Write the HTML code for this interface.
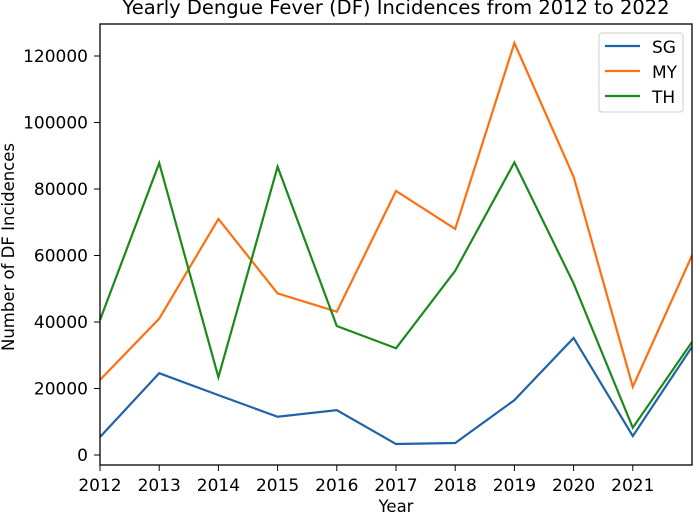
<!DOCTYPE html>
<html><head><meta charset="utf-8"><style>
body{margin:0;background:#fff;}
svg text{font-family:"DejaVu Sans","Liberation Sans",sans-serif;fill:#000;}
</style></head><body>
<svg id="chart" width="694" height="513">
<text x="396" y="14" font-size="19.5" text-anchor="middle">Yearly Dengue Fever (DF) Incidences from 2012 to 2022</text>
<g id="axes"></g>
<g id="series"></g>
<rect x="100" y="24" width="592" height="441" fill="none" stroke="#000" stroke-width="1.3"/>
<text x="396" y="512" font-size="16.5" text-anchor="middle">Year</text>
<text transform="translate(14,247) rotate(-90)" font-size="16.5" text-anchor="middle">Number of DF Incidences</text>
<g>
<rect x="599" y="33" width="84" height="79" rx="3" fill="#fff" stroke="#ccc"/>
<line x1="605" x2="640" y1="46" y2="46" stroke="#1f63a8" stroke-width="2.2"/>
<text x="652" y="53" font-size="17">SG</text>
<line x1="605" x2="640" y1="71" y2="71" stroke="#ff6f0e" stroke-width="2.2"/>
<text x="652" y="78" font-size="17">MY</text>
<line x1="605" x2="640" y1="96" y2="96" stroke="#1a8a1a" stroke-width="2.2"/>
<text x="652" y="103" font-size="17">TH</text>
</g>
</svg>
<script>
const years=[2012,2013,2014,2015,2016,2017,2018,2019,2020,2021,2022];
const sg=[5400,24600,18000,11500,13500,3300,3600,16500,35200,5700,32500];
const my=[22600,41000,71000,48600,43100,79400,68000,123900,83700,20500,60000];
const th=[40600,87800,23400,86700,38800,32100,55400,88000,51600,8200,34000];
const yTicks=[0,20000,40000,60000,80000,100000,120000];
const xTicks=[2012,2013,2014,2015,2016,2017,2018,2019,2020,2021];
const ns="http://www.w3.org/2000/svg";
function xs(v){return 100+(v-2012)*(592/10);}
function ys(v){return 455-v*(399/120000);}
const axes=document.getElementById('axes');
yTicks.forEach(t=>{
 const l=document.createElementNS(ns,'line');
 l.setAttribute('x1',94);l.setAttribute('x2',100);l.setAttribute('y1',ys(t));l.setAttribute('y2',ys(t));l.setAttribute('stroke','#000');
 
 
 axes.appendChild(l);
 const tx=document.createElementNS(ns,'text');
 tx.setAttribute('x',88);tx.setAttribute('y',ys(t)+6);tx.setAttribute('font-size','17');tx.setAttribute('text-anchor','end');
 tx.textContent=t;
 
 
 axes.appendChild(tx);
});
xTicks.forEach(t=>{
 const l=document.createElementNS(ns,'line');
 l.setAttribute('x1',xs(t));l.setAttribute('x2',xs(t));l.setAttribute('y1',465);l.setAttribute('y2',471);l.setAttribute('stroke','#000');
 
 
 axes.appendChild(l);
 const tx=document.createElementNS(ns,'text');
 tx.setAttribute('x',xs(t));tx.setAttribute('y',491);tx.setAttribute('font-size','17');tx.setAttribute('text-anchor','middle');
 tx.textContent=t;
 
 
 axes.appendChild(tx);
});
const g=document.getElementById('series');
[[sg,'#1f63a8','sg'],[my,'#ff6f0e','my'],[th,'#1a8a1a','th']].forEach(([d,c,n])=>{
 const p=document.createElementNS(ns,'polyline');
 p.setAttribute('points',d.map((v,i)=>xs(years[i])+','+ys(v)).join(' '));
 p.setAttribute('fill','none');p.setAttribute('stroke',c);p.setAttribute('stroke-width','2.2');
 
 
 g.appendChild(p);
});
</script>
</body></html>
